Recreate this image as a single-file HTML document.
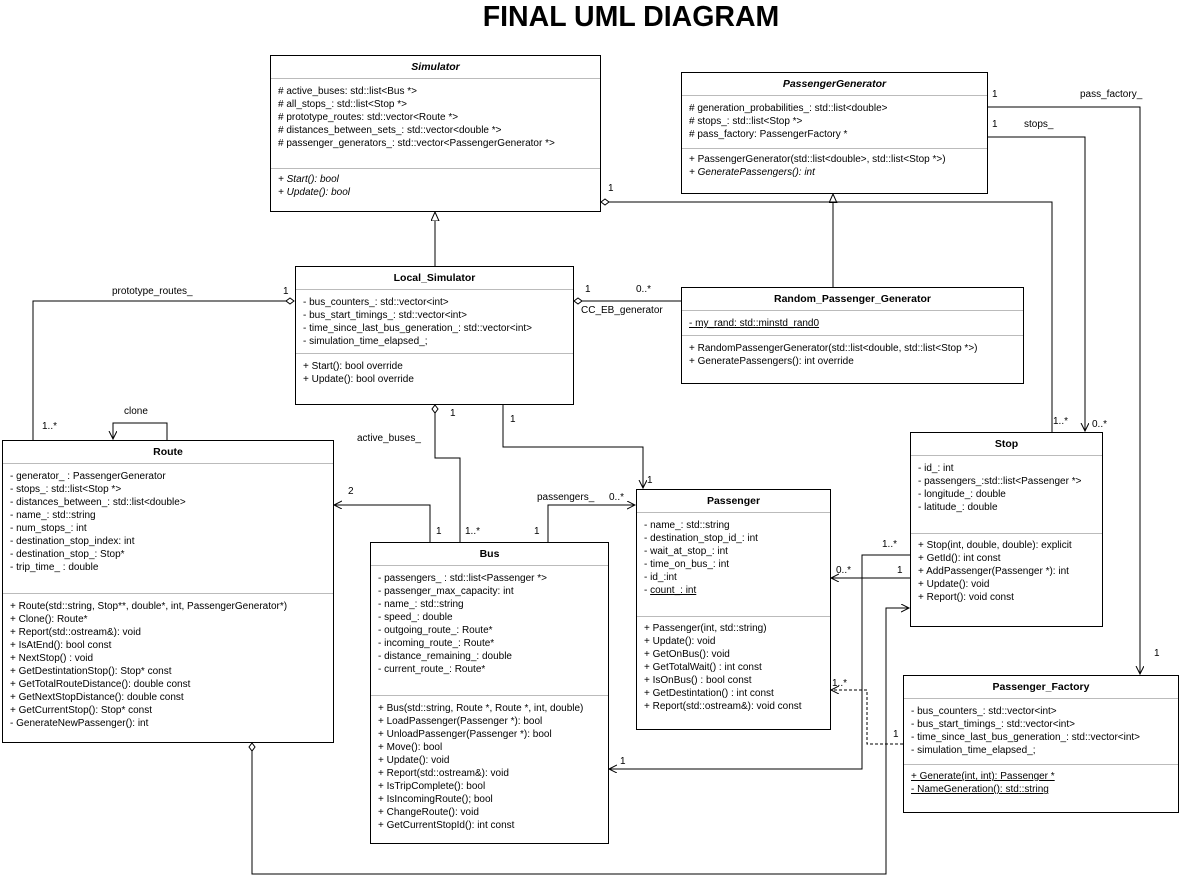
<!DOCTYPE html>
<html><head><meta charset="utf-8"><style>
body{margin:0;width:1181px;height:880px;background:#fff;position:relative;overflow:hidden;font-family:"Liberation Sans",Arial,sans-serif;color:#000}
.t{position:absolute;left:0;top:1px;width:1262px;text-align:center;font-weight:bold;font-size:28.5px;}
.b{position:absolute;border:1px solid #000;background:#fff;box-sizing:border-box;font-size:10px;}
.b .h{font-weight:bold;text-align:center;height:22px;line-height:22px;border-bottom:1px solid #bbb;font-size:10.5px}
.b .s{border-bottom:1px solid #bbb;padding:2px 0 0 7px;line-height:13px;box-sizing:border-box}
.b .m{padding:3px 0 0 7px;line-height:13px}
i{font-style:italic}
u{text-decoration:underline}
.l{position:absolute;font-size:10px;white-space:nowrap;line-height:12px}
svg{position:absolute;left:0;top:0}
</style></head><body>
<div class="t">FINAL UML DIAGRAM</div>
<svg width="1181" height="880" fill="none" stroke="#000" stroke-width="1">
<defs>
<marker id="a" markerWidth="10" markerHeight="10" refX="8" refY="4" orient="auto" markerUnits="userSpaceOnUse"><path d="M0,0 L8,4 L0,8" fill="none" stroke="#000"/></marker>
<marker id="tri" markerWidth="12" markerHeight="12" refX="9" refY="4" orient="auto" markerUnits="userSpaceOnUse"><path d="M0,0 L9,4 L0,8 Z" fill="#fff" stroke="#000"/></marker>
<marker id="d" markerWidth="14" markerHeight="10" refX="1" refY="4" orient="auto" markerUnits="userSpaceOnUse"><path d="M1,4 L5,1 L9,4 L5,7 Z" fill="#fff" stroke="#000"/></marker>
</defs>
<path d="M435,266 V212" marker-end="url(#tri)"/>
<path d="M833,287 V194" marker-end="url(#tri)"/>
<path d="M601,202 H1052 V432" marker-start="url(#d)"/>
<path d="M987,107 H1140 V674" marker-end="url(#a)"/>
<path d="M987,137 H1085 V431" marker-end="url(#a)"/>
<path d="M574,301 H681" marker-start="url(#d)"/>
<path d="M294,301 H33 V440" marker-start="url(#d)"/>
<path d="M167,440 V423 H113 V439" marker-end="url(#a)"/>
<path d="M435,405 V458 H460 V542" marker-start="url(#d)"/>
<path d="M503,404 V447 H643 V488" marker-end="url(#a)"/>
<path d="M430,542 V505 H334" marker-end="url(#a)"/>
<path d="M548,542 V505 H635" marker-end="url(#a)"/>
<path d="M910,555 H862 V769 H609" marker-end="url(#a)"/>
<path d="M910,578 H831" marker-end="url(#a)"/>
<path d="M252,743 V874 H886 V608 H909" marker-start="url(#d)" marker-end="url(#a)"/>
<path d="M903,744 H867 V690 H831" stroke-dasharray="3,2" marker-end="url(#a)"/>
</svg>

<div class="b" style="left:270px;top:55px;width:331px;height:157px">
<div class="h"><i>Simulator</i></div>
<div class="s" style="height:90px;padding-top:6px"># active_buses: std::list&lt;Bus *&gt;<br># all_stops_: std::list&lt;Stop *&gt;<br># prototype_routes: std::vector&lt;Route *&gt;<br># distances_between_sets_: std::vector&lt;double *&gt;<br># passenger_generators_: std::vector&lt;PassengerGenerator *&gt;</div>
<div class="m" style="padding-top:4px"><i>+ Start(): bool<br>+ Update(): bool</i></div>
</div>

<div class="b" style="left:681px;top:72px;width:307px;height:122px">
<div class="h"><i>PassengerGenerator</i></div>
<div class="s" style="height:53px;padding-top:6px"># generation_probabilities_: std::list&lt;double&gt;<br># stops_: std::list&lt;Stop *&gt;<br># pass_factory: PassengerFactory *</div>
<div class="m" style="padding-top:4px">+ PassengerGenerator(std::list&lt;double&gt;, std::list&lt;Stop *&gt;)<br><i>+ GeneratePassengers(): int</i></div>
</div>

<div class="b" style="left:295px;top:266px;width:279px;height:139px">
<div class="h">Local_Simulator</div>
<div class="s" style="height:64px;padding-top:6px">- bus_counters_: std::vector&lt;int&gt;<br>- bus_start_timings_: std::vector&lt;int&gt;<br>- time_since_last_bus_generation_: std::vector&lt;int&gt;<br>- simulation_time_elapsed_;</div>
<div class="m" style="padding-top:6px">+ Start(): bool override<br>+ Update(): bool override</div>
</div>

<div class="b" style="left:681px;top:287px;width:343px;height:97px">
<div class="h">Random_Passenger_Generator</div>
<div class="s" style="height:25px;padding-top:6px"><u>- my_rand: std::minstd_rand0</u></div>
<div class="m" style="padding-top:6px">+ RandomPassengerGenerator(std::list&lt;double, std::list&lt;Stop *&gt;)<br>+ GeneratePassengers(): int override</div>
</div>

<div class="b" style="left:2px;top:440px;width:332px;height:303px">
<div class="h">Route</div>
<div class="s" style="height:130px;padding-top:6px">- generator_ : PassengerGenerator<br>- stops_: std::list&lt;Stop *&gt;<br>- distances_between_: std::list&lt;double&gt;<br>- name_: std::string<br>- num_stops_: int<br>- destination_stop_index: int<br>- destination_stop_: Stop*<br>- trip_time_ : double</div>
<div class="m" style="padding-top:6px">+ Route(std::string, Stop**, double*, int, PassengerGenerator*)<br>+ Clone(): Route*<br>+ Report(std::ostream&amp;): void<br>+ IsAtEnd(): bool const<br>+ NextStop() : void<br>+ GetDestintationStop(): Stop* const<br>+ GetTotalRouteDistance(): double const<br>+ GetNextStopDistance(): double const<br>+ GetCurrentStop(): Stop* const<br>- GenerateNewPassenger(): int</div>
</div>

<div class="b" style="left:370px;top:542px;width:239px;height:302px">
<div class="h">Bus</div>
<div class="s" style="height:130px;padding-top:6px">- passengers_ : std::list&lt;Passenger *&gt;<br>- passenger_max_capacity: int<br>- name_: std::string<br>- speed_: double<br>- outgoing_route_: Route*<br>- incoming_route_: Route*<br>- distance_remaining_: double<br>- current_route_: Route*</div>
<div class="m" style="padding-top:6px">+ Bus(std::string, Route *, Route *, int, double)<br>+ LoadPassenger(Passenger *): bool<br>+ UnloadPassenger(Passenger *): bool<br>+ Move(): bool<br>+ Update(): void<br>+ Report(std::ostream&amp;): void<br>+ IsTripComplete(): bool<br>+ IsIncomingRoute(); bool<br>+ ChangeRoute(): void<br>+ GetCurrentStopId(): int const</div>
</div>

<div class="b" style="left:636px;top:489px;width:195px;height:241px">
<div class="h">Passenger</div>
<div class="s" style="height:104px;padding-top:6px">- name_: std::string<br>- destination_stop_id_: int<br>- wait_at_stop_: int<br>- time_on_bus_: int<br>- id_:int<br>- <u>count_: int</u></div>
<div class="m" style="padding-top:5px">+ Passenger(int, std::string)<br>+ Update(): void<br>+ GetOnBus(): void<br>+ GetTotalWait() : int const<br>+ IsOnBus() : bool const<br>+ GetDestintation() : int const<br>+ Report(std::ostream&amp;): void const</div>
</div>

<div class="b" style="left:910px;top:432px;width:193px;height:195px">
<div class="h">Stop</div>
<div class="s" style="height:78px;padding-top:6px">- id_: int<br>- passengers_:std::list&lt;Passenger *&gt;<br>- longitude_: double<br>- latitude_: double</div>
<div class="m" style="padding-top:5px">+ Stop(int, double, double): explicit<br>+ GetId(): int const<br>+ AddPassenger(Passenger *): int<br>+ Update(): void<br>+ Report(): void const</div>
</div>

<div class="b" style="left:903px;top:675px;width:276px;height:138px">
<div class="h">Passenger_Factory</div>
<div class="s" style="height:66px;padding-top:6px">- bus_counters_: std::vector&lt;int&gt;<br>- bus_start_timings_: std::vector&lt;int&gt;<br>- time_since_last_bus_generation_: std::vector&lt;int&gt;<br>- simulation_time_elapsed_;</div>
<div class="m" style="padding-top:5px"><u>+ Generate(int, int): Passenger *</u><br><u>- NameGeneration(): std::string</u></div>
</div>

<div class="l" style="left:608px;top:183px">1</div>
<div class="l" style="left:1053px;top:416px">1..*</div>
<div class="l" style="left:992px;top:89px">1</div>
<div class="l" style="left:1080px;top:89px">pass_factory_</div>
<div class="l" style="left:1154px;top:648px">1</div>
<div class="l" style="left:992px;top:119px">1</div>
<div class="l" style="left:1024px;top:119px">stops_</div>
<div class="l" style="left:1092px;top:419px">0..*</div>
<div class="l" style="left:585px;top:284px">1</div>
<div class="l" style="left:636px;top:284px">0..*</div>
<div class="l" style="left:581px;top:305px">CC_EB_generator</div>
<div class="l" style="left:112px;top:286px">prototype_routes_</div>
<div class="l" style="left:283px;top:286px">1</div>
<div class="l" style="left:42px;top:421px">1..*</div>
<div class="l" style="left:124px;top:406px">clone</div>
<div class="l" style="left:450px;top:408px">1</div>
<div class="l" style="left:357px;top:433px">active_buses_</div>
<div class="l" style="left:465px;top:526px">1..*</div>
<div class="l" style="left:510px;top:414px">1</div>
<div class="l" style="left:647px;top:475px">1</div>
<div class="l" style="left:348px;top:486px">2</div>
<div class="l" style="left:436px;top:526px">1</div>
<div class="l" style="left:537px;top:492px">passengers_</div>
<div class="l" style="left:609px;top:492px">0..*</div>
<div class="l" style="left:534px;top:526px">1</div>
<div class="l" style="left:882px;top:539px">1..*</div>
<div class="l" style="left:620px;top:756px">1</div>
<div class="l" style="left:836px;top:565px">0..*</div>
<div class="l" style="left:897px;top:565px">1</div>
<div class="l" style="left:832px;top:678px">1..*</div>
<div class="l" style="left:893px;top:729px">1</div>
</body></html>
